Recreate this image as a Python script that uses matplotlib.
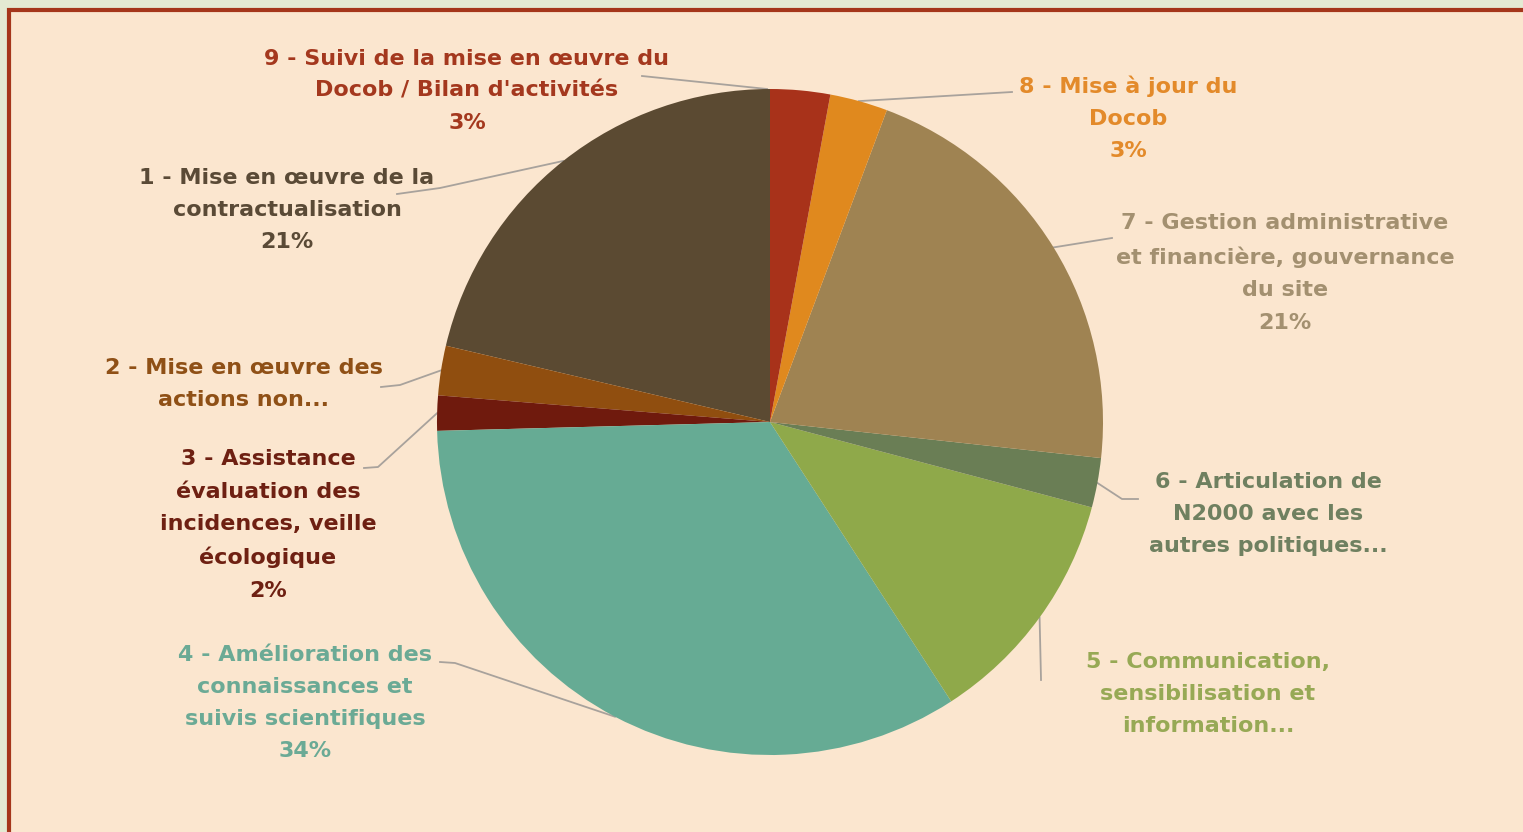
import matplotlib
matplotlib.use("Agg")
import matplotlib.pyplot as plt
from matplotlib.patches import Rectangle
import numpy as np

# share of time per task (percent), in pie order (counter-clockwise from 12 o'clock)
labels = [
    "1 - Mise en œuvre de la\ncontractualisation\n21%",
    "2 - Mise en œuvre des\nactions non...",
    "3 - Assistance\névaluation des\nincidences, veille\nécologique\n2%",
    "4 - Amélioration des\nconnaissances et\nsuivis scientifiques\n34%",
    "5 - Communication,\nsensibilisation et\ninformation...",
    "6 - Articulation de\nN2000 avec les\nautres politiques...",
    "7 - Gestion administrative\net financière, gouvernance\ndu site\n21%",
    "8 - Mise à jour du\nDocob\n3%",
    "9 - Suivi de la mise en œuvre du\nDocob / Bilan d'activités\n3%",
]
values = [21.3, 2.4, 1.7, 33.7, 11.7, 2.4, 21.0, 2.8, 2.9]
colors = ["#5B4A32", "#904E0F", "#6F1A0D", "#66AB94", "#8FA94A",
          "#6A7E55", "#9F8352", "#E0891E", "#A8321A"]
text_colors = ["#5A4A36", "#8F5016", "#6E2012", "#6BAA95", "#97A955",
               "#6F8060", "#A39070", "#E38A2A", "#A4381E"]

W, H = 1523, 832
fig = plt.figure(figsize=(W / 100, H / 100), dpi=100)
fig.patch.set_facecolor("#E4EAD3")


def fx(px):
    return px / W


def fy(py):
    return 1 - py / H


# slide frame (runs off the right and bottom edges)
frame = Rectangle((fx(9), -0.02), 1.02, fy(10) + 0.02, transform=fig.transFigure,
                  facecolor="#FBE6CF", edgecolor="#A5361B", linewidth=3, zorder=-5)
fig.patches.append(frame)

# pie: centre (770, 422), radius 333 px
cx, cy, r = 770, 422, 333
ax = fig.add_axes([fx(cx - r), fy(cy + r), r * 2 / W, r * 2 / H])
ax.set_zorder(2)
ax.set_facecolor("none")
wedges, _ = ax.pie(values, colors=colors, startangle=90, counterclock=True,
                   radius=1, wedgeprops=dict(linewidth=0))
ax.set_xlim(-1, 1)
ax.set_ylim(-1, 1)
ax.set_aspect("equal")
ax.axis("off")

# label layout: text centre (px), leader start (px), leader elbow (px), attach angle override
label_pos = [(287, 210), (244, 384), (268, 525), (305, 703), (1208, 694),
             (1268, 514), (1285, 273), (1128, 118), (467, 91)]
leader_start = [(397, 194), (381, 387), (364, 468), (440, 662), (1041, 680),
                (1138, 499), (1112, 238), (1012, 92), (642, 76)]
leader_elbow = [(440, 188), (400, 385), (378, 467), (455, 663), (1041, 679),
                (1122, 499), (1112, 238), (1012, 92), (642, 76)]
attach_override = {8: 90.5}

for i, w in enumerate(wedges):
    x, y = label_pos[i]
    fig.text(fx(x), fy(y), labels[i], ha="center", va="center",
             color=text_colors[i], fontsize=16, fontweight="bold",
             family=["DejaVu Sans"], linespacing=1.76, zorder=3)
    ang = attach_override.get(i, (w.theta1 + w.theta2) / 2)
    px = cx + r * np.cos(np.radians(ang))
    py = cy - r * np.sin(np.radians(ang))
    xs = [leader_start[i][0], leader_elbow[i][0], px]
    ys = [leader_start[i][1], leader_elbow[i][1], py]
    line = plt.Line2D([fx(v) for v in xs], [fy(v) for v in ys],
                      transform=fig.transFigure, color="#A8A29C", linewidth=1.3)
    line.set_zorder(1.5)
    fig.add_artist(line)

fig.savefig("out.png", dpi=100, facecolor=fig.get_facecolor())
